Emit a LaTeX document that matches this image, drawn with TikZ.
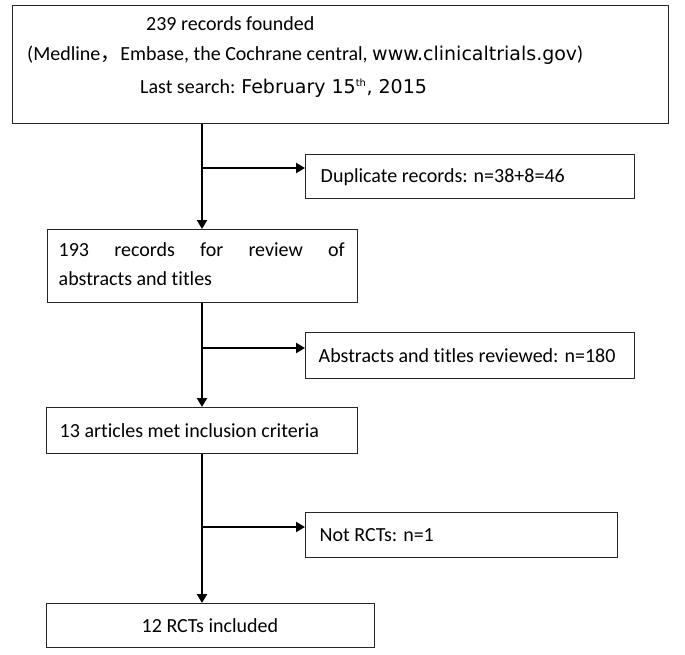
\documentclass[tikz,border=0pt]{standalone}
\usepackage{fontspec}
\setmainfont{Carlito}[Ligatures=NoCommon]
\newfontfamily\widefont{DejaVu Sans}
\newfontfamily\cjk{Noto Sans CJK SC}
\usetikzlibrary{arrows.meta}
\begin{document}
\begin{tikzpicture}[x=1pt,y=-1pt,
  box/.style={draw=black!85, line width=1.4pt, inner sep=0pt, anchor=north west, font=\fontsize{20}{24}\selectfont},
  txt/.style={inner sep=0pt, anchor=west, font=\fontsize{20}{24}\selectfont},
  spineline/.style={line width=2.8pt, -{Triangle[length=9pt,width=10pt]}},
  branch/.style={line width=2.2pt, -{Triangle[length=9pt,width=10pt]}}]
\useasboundingbox[fill=white] (0,0) rectangle (685,654);
% boxes
\node[box, minimum width=656pt, minimum height=118pt] (b1) at (12,5) {};
\node[txt] (t1) at (146,24) {239 records founded};
\node[txt] (t2) at (27,55) {(Medline{\cjk ，}Embase, the Cochrane central, {\widefont\fontsize{19}{22}\selectfont www.clinicaltrials.gov})};
\node[txt] (t3) at (140,88) {Last search: {\widefont\fontsize{19}{22}\selectfont February 15\textsuperscript{\fontsize{10}{10}\selectfont th}, 2015}};
\node[box, minimum width=329pt, minimum height=44pt] (b2) at (305,154) {\makebox[329pt][l]{\hspace{15pt}Duplicate records: n=38+8=46}};
\node[box, minimum width=310pt, minimum height=73pt] (b3) at (47,229) {\begin{tabular}{@{\hspace{11pt}}l@{\hspace{13pt}}}\makebox[286pt][s]{193 records for review of}\\[5pt]abstracts and titles\end{tabular}};
\node[box, minimum width=329pt, minimum height=46pt] (b4) at (305,332) {\makebox[329pt][l]{\hspace{13pt}Abstracts and titles reviewed: n=180}};
\node[box, minimum width=311pt, minimum height=46pt] (b5) at (46,407) {\makebox[311pt][l]{\hspace{13pt}13 articles met inclusion criteria}};
\node[box, minimum width=312pt, minimum height=45pt] (b6) at (305,512) {\makebox[312pt][l]{\hspace{14pt}Not RCTs: n=1}};
\node[box, minimum width=328pt, minimum height=44pt] (b7) at (46,603) {\makebox[328pt][l]{\hspace{95pt}12 RCTs included}};
% connectors
\coordinate (sp) at (202,0);
\coordinate (j1) at (202,168);
\coordinate (j2) at (202,348);
\coordinate (j3) at (202,527);
\draw[spineline] (b1.south -| sp) -- (b3.north -| sp);
\draw[spineline] (b3.south -| sp) -- (b5.north -| sp);
\draw[spineline] (b5.south -| sp) -- (b7.north -| sp);
\draw[branch] (j1) -- (j1 -| b2.west);
\draw[branch] (j2) -- (j2 -| b4.west);
\draw[branch] (j3) -- (j3 -| b6.west);
\end{tikzpicture}
\end{document}
